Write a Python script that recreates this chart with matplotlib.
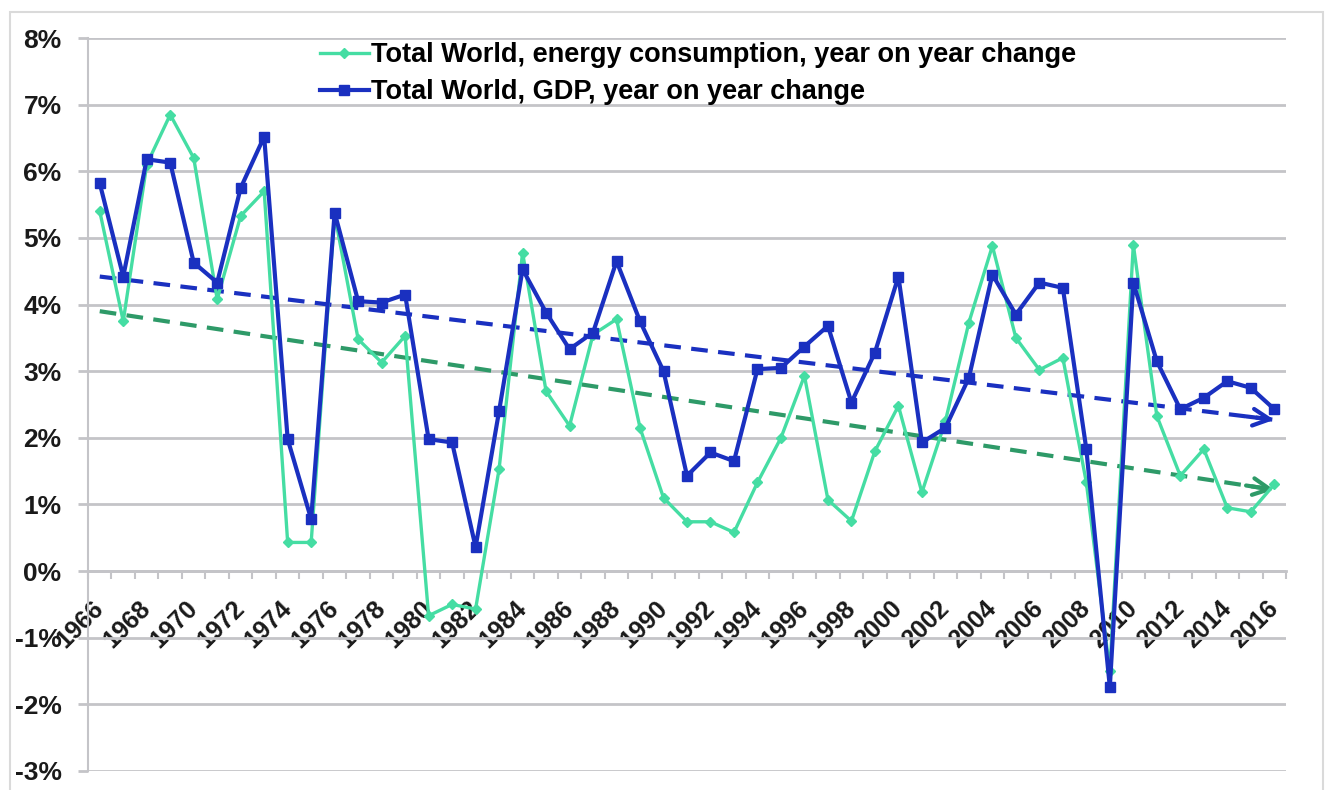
import matplotlib
matplotlib.use("Agg")
import matplotlib.pyplot as plt
from matplotlib.patches import Rectangle
from matplotlib.ticker import FuncFormatter, FixedLocator
import numpy as np

plt.rcParams["font.family"] = ["Liberation Sans", "DejaVu Sans"]
plt.rcParams["font.weight"] = "bold"

# Data, % change year on year
years = list(range(1966, 2017))
energy = [5.40, 3.75, 6.10, 6.85, 6.20, 4.08, 5.33, 5.70, 0.43, 0.43,
          5.35, 3.48, 3.13, 3.53, -0.67, -0.50, -0.57, 1.53, 4.78, 2.70,
          2.18, 3.55, 3.78, 2.15, 1.10, 0.74, 0.74, 0.58, 1.33, 2.00,
          2.93, 1.07, 0.75, 1.80, 2.48, 1.18, 2.25, 3.73, 4.88, 3.50,
          3.02, 3.20, 1.33, -1.50, 4.90, 2.33, 1.43, 1.83, 0.95, 0.89,
          1.30]
gdp = [5.82, 4.42, 6.18, 6.13, 4.63, 4.33, 5.75, 6.52, 1.98, 0.78,
       5.38, 4.05, 4.03, 4.15, 1.98, 1.93, 0.36, 2.40, 4.53, 3.88,
       3.33, 3.58, 4.65, 3.75, 3.00, 1.43, 1.78, 1.65, 3.03, 3.05,
       3.37, 3.68, 2.53, 3.28, 4.42, 1.93, 2.15, 2.90, 4.45, 3.85,
       4.33, 4.25, 1.83, -1.74, 4.33, 3.15, 2.43, 2.60, 2.85, 2.75,
       2.43]
# trend lines: start / end values
gdp_trend = [4.42, 2.27]
energy_trend = [3.90, 1.22]

labels = ["Total World, energy consumption, year on year change",
          "Total World, GDP, year on year change"]

GREEN = "#45DDA3"
BLUE = "#1A30C0"
GREEN_DARK = "#2E9A68"
GRID = "#C4C4C8"
FS = 19

fig = plt.figure(figsize=(13.25, 7.9), dpi=100)
ax = fig.add_axes([88 / 1325, 1 - 771 / 790, (1286 - 88) / 1325, (771 - 38) / 790])

x = np.arange(len(years))

# trend lines (dashed with open arrow heads)
for vals, col in [(gdp_trend, BLUE), (energy_trend, GREEN_DARK)]:
    tx = [x[0], x[-1]]
    ax.plot(tx, vals, color=col, lw=3, ls=(0, (4, 2.5)), zorder=3)
    slope = (vals[1] - vals[0]) / (tx[1] - tx[0])
    ax.annotate("", xy=(tx[1], vals[1]), xytext=(tx[1] - 1.2, vals[1] - 1.2 * slope),
                arrowprops=dict(arrowstyle="->", color=col, lw=3, mutation_scale=30,
                                shrinkA=0, shrinkB=0), zorder=3)

ax.plot(x, energy, color=GREEN, lw=2.4, marker="D", ms=5, mec=GREEN, mfc=GREEN,
        label=labels[0], zorder=4)
ax.plot(x, gdp, color=BLUE, lw=3, marker="s", ms=7.5, mec=BLUE, mfc=BLUE,
        label=labels[1], zorder=5)

ax.set_xlim(-0.5, len(years) - 0.5)
ax.set_ylim(-3, 8)

# axes styling
ax.set_yticks(range(-3, 9))
ax.yaxis.set_major_formatter(FuncFormatter(lambda v, p: f"{int(v)}%"))
ax.grid(axis="y", color=GRID, lw=2)
ax.set_axisbelow(True)
for s in ["top", "right"]:
    ax.spines[s].set_visible(False)
ax.spines["left"].set_color(GRID)
ax.spines["left"].set_linewidth(1.5)
ax.spines["bottom"].set_position(("data", 0))
ax.spines["bottom"].set_color(GRID)
ax.spines["bottom"].set_linewidth(2)

ax.tick_params(axis="y", length=7, width=2, color=GRID, pad=12,
               labelsize=FS, labelcolor="#1a1a1a")

# year labels every 2nd category, small ticks between categories
major = x[::2]
ax.xaxis.set_major_locator(FixedLocator(major))
ax.set_xticklabels([str(years[i]) for i in major], rotation=45, ha="right",
                   va="center", rotation_mode="anchor")
ax.xaxis.set_minor_locator(FixedLocator(np.arange(-0.5, len(years), 1.0)))
ax.tick_params(axis="x", which="major", length=0, pad=24, labelsize=18,
               labelcolor="#1a1a1a")
ax.tick_params(axis="x", which="minor", length=6, width=1.5, color=GRID)

leg = ax.legend(loc="upper left", bbox_to_anchor=(320 / 1325, 1 - 42 / 790),
                bbox_transform=fig.transFigure, frameon=False, fontsize=19.5,
                handlelength=1.8, handletextpad=0.1, labelspacing=0.42,
                borderaxespad=0, borderpad=0)

# light border round the chart
fig.patches.append(Rectangle((10 / 1325, -10 / 790), 1313 / 1325, 788 / 790,
                             transform=fig.transFigure, fill=False,
                             edgecolor="#DADADA", lw=1.5))

fig.savefig("out.png", dpi=100)
